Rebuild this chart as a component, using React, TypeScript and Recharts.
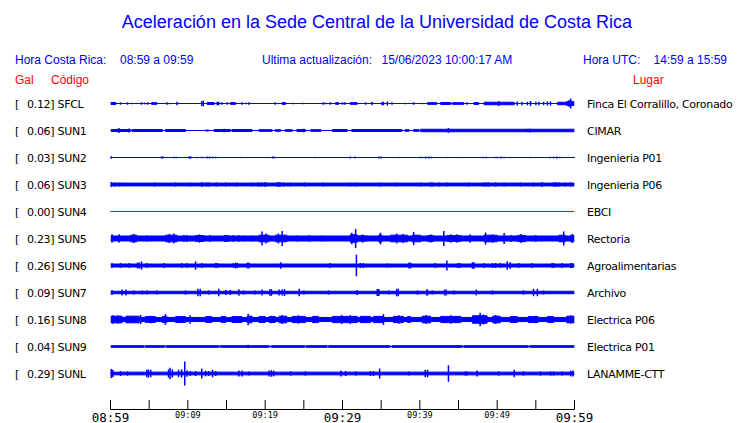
import React from 'react';
import { ComposedChart, Area, Scatter, ErrorBar, XAxis, YAxis } from 'recharts';

type Pt = [number, number]; // [minutes since 08:59, half amplitude in Gal]

const CODES = ['SFCL', 'SUN1', 'SUN2', 'SUN3', 'SUN4', 'SUN5', 'SUN6', 'SUN7', 'SUN8', 'SUN9', 'SUNL'];
const PLACES = [
  'Finca El Corralillo, Coronado',
  'CIMAR',
  'Ingenieria P01',
  'Ingenieria P06',
  'EBCI',
  'Rectoria',
  'Agroalimentarias',
  'Archivo',
  'Electrica P06',
  'Electrica P01',
  'LANAMME-CTT',
];
const PEAKS = [0.12, 0.06, 0.03, 0.06, 0.0, 0.23, 0.26, 0.09, 0.16, 0.04, 0.29];

const TIME_TICKS = [0, 5, 10, 15, 20, 25, 30, 35, 40, 45, 50, 55, 60];
const TIME_LABELS = ['08:59', '', '09:09', '', '09:19', '', '09:29', '', '09:39', '', '09:49', '', '09:59'];

// background noise level (step envelope)
const SFCL_ENV: Pt[] = [[0, 0.024], [0.7, 0], [5.3, 0.02], [6.0, 0], [12.5, 0.024], [13.4, 0], [15.5, 0.02], [16.2, 0], [22.2, 0.024], [22.6, 0], [29.1, 0.02], [29.5, 0], [31.0, 0.02], [31.9, 0], [41.0, 0.02], [42.2, 0], [42.7, 0.024], [44.0, 0], [44.2, 0.02], [45.7, 0], [47.0, 0.024], [47.6, 0], [48.3, 0.03], [52.2, 0], [57.8, 0.03], [59.0, 0.05], [59.9, 0.03]];
const SUN1_ENV: Pt[] = [[0, 0.024], [2.6, 0], [2.8, 0.024], [6.7, 0], [7.1, 0.024], [9.7, 0], [12.3, 0.012], [12.7, 0], [13.4, 0.024], [15.5, 0], [15.7, 0.024], [18.3, 0], [19.2, 0.02], [20.9, 0], [21.3, 0.02], [22.0, 0], [22.6, 0.02], [23.5, 0], [24.1, 0.024], [25.2, 0], [25.9, 0.02], [27.2, 0], [28.7, 0.024], [30.6, 0], [31.2, 0.024], [37.7, 0], [38.1, 0.02], [38.6, 0], [39.2, 0.02], [39.9, 0], [40.1, 0.03]];
const SUN2_ENV: Pt[] = [[0, 0]];
const SUN3_ENV: Pt[] = [[0, 0.034]];
const SUN4_ENV: Pt[] = [[0, 0]];
const SUN5_ENV: Pt[] = [[0, 0.06], [2.6, 0.08], [3.4, 0.06], [7.1, 0.08], [8.6, 0.06], [11.0, 0.07], [12.1, 0.06], [14.7, 0.07], [15.3, 0.06], [19.2, 0.08], [20.5, 0.06], [21.3, 0.08], [22.8, 0.06], [31.0, 0.09], [31.9, 0.065], [33.2, 0.06], [34.7, 0.085], [35.1, 0.06], [36.2, 0.08], [38.4, 0.06], [39.0, 0.08], [40.1, 0.06], [41.0, 0.07], [41.8, 0.06], [43.5, 0.07], [45.3, 0.06], [48.3, 0.08], [50.0, 0.06], [52.6, 0.075], [53.7, 0.06], [58.0, 0.08], [58.8, 0.06], [59.5, 0.075]];
const SUN6_ENV: Pt[] = [[0, 0.036]];
const SUN7_ENV: Pt[] = [[0, 0.03]];
const SUN8_ENV: Pt[] = [[0, 0.08], [1.5, 0.05], [2.0, 0.08], [3.7, 0.05], [4.5, 0.07], [5.8, 0.05], [6.7, 0.075], [7.3, 0.05], [8.4, 0.07], [9.7, 0.05], [12.3, 0.07], [13.1, 0.05], [14.3, 0.07], [14.9, 0.05], [15.7, 0.07], [17.0, 0.05], [17.7, 0.08], [18.3, 0.05], [19.2, 0.07], [20.0, 0.05], [20.5, 0.07], [21.3, 0.05], [21.8, 0.08], [22.8, 0.05], [23.5, 0.075], [25.2, 0.05], [26.1, 0.075], [26.9, 0.05], [28.7, 0.075], [31.9, 0.05], [32.3, 0.075], [33.6, 0.05], [34.0, 0.075], [35.3, 0.05], [36.6, 0.075], [37.9, 0.05], [38.4, 0.07], [38.8, 0.05], [40.3, 0.08], [41.4, 0.05], [42.7, 0.075], [45.3, 0.05], [46.8, 0.09], [48.7, 0.05], [49.4, 0.08], [50.4, 0.05], [51.7, 0.07], [52.6, 0.05], [54.0, 0.07], [55.3, 0.05], [56.5, 0.07], [57.3, 0.05], [59.0, 0.08]];
const SUN9_ENV: Pt[] = [[0, 0.02], [4.3, 0.006], [4.5, 0.02], [7.0, 0.006], [7.2, 0.02], [14.0, 0.006], [14.2, 0.02], [20.5, 0.006], [20.8, 0.02], [25.1, 0.006], [25.3, 0.02], [28.0, 0.006], [28.2, 0.02], [36.1, 0.006], [36.4, 0.02], [45.5, 0.006], [45.7, 0.02], [54.0, 0.006], [54.2, 0.02]];
const SUNL_ENV: Pt[] = [[0, 0.033]];

// individual bursts / peaks
const SFCL_SPK: Pt[] = [[1.3, 0.03], [2.2, 0.03], [2.8, 0.02], [4.0, 0.03], [4.4, 0.02], [4.8, 0.03], [7.3, 0.03], [7.7, 0.02], [8.6, 0.04], [11.8, 0.06], [12.0, 0.07], [13.8, 0.04], [14.0, 0.04], [14.4, 0.03], [15.1, 0.03], [17.0, 0.03], [17.5, 0.02], [17.9, 0.03], [21.3, 0.03], [23.6, 0.02], [24.9, 0.02], [27.5, 0.03], [27.8, 0.02], [28.4, 0.03], [30.0, 0.03], [30.3, 0.03], [33.0, 0.03], [33.8, 0.04], [35.1, 0.04], [35.3, 0.04], [35.8, 0.05], [36.4, 0.03], [38.1, 0.02], [39.2, 0.03], [40.3, 0.02], [46.1, 0.03], [50.2, 0.06], [52.6, 0.05], [53.2, 0.04], [53.9, 0.04], [54.3, 0.06], [55.0, 0.04], [55.4, 0.04], [56.0, 0.04], [56.5, 0.05], [56.9, 0.05], [59.3, 0.08], [59.5, 0.12]];
const SUN1_SPK: Pt[] = [[0.8, 0.04], [1.1, 0.06], [2.4, 0.05], [14.7, 0.045], [25.0, 0.04], [43.7, 0.06], [53.8, 0.04], [54.2, 0.045]];
const SUN2_SPK: Pt[] = [[0.1, 0.03], [6.6, 0.025], [6.8, 0.025], [8.2, 0.02], [8.5, 0.02], [10.2, 0.03], [10.4, 0.025], [11.2, 0.02], [11.8, 0.02], [12.5, 0.025], [12.8, 0.025], [13.2, 0.02], [13.6, 0.02], [16.8, 0.015], [18.3, 0.015], [20.3, 0.015], [21.0, 0.025], [21.2, 0.02], [21.8, 0.015], [26.4, 0.015], [31.0, 0.025], [31.6, 0.025], [34.7, 0.025], [35.0, 0.025], [35.6, 0.015], [36.8, 0.015], [37.4, 0.015], [40.0, 0.02], [40.3, 0.02], [40.8, 0.025], [41.2, 0.025], [41.5, 0.02], [43.6, 0.015], [45.0, 0.015], [47.4, 0.015], [48.2, 0.02], [48.6, 0.02], [49.7, 0.02], [50.0, 0.02], [50.5, 0.025], [50.9, 0.02], [51.7, 0.015], [54.3, 0.015], [56.8, 0.02], [57.3, 0.02], [57.7, 0.025], [58.1, 0.02], [59.9, 0.015]];
const SUN3_SPK: Pt[] = [[0.1, 0.06], [0.5, 0.05], [1.2, 0.05], [5.7, 0.05], [8.4, 0.05], [10.3, 0.05], [11.8, 0.06], [12.5, 0.05], [12.7, 0.05], [13.7, 0.05], [14.9, 0.05], [16.3, 0.05], [18.3, 0.05], [19.1, 0.05], [19.5, 0.05], [20.0, 0.06], [21.6, 0.06], [21.9, 0.06], [22.4, 0.05], [23.2, 0.05], [25.1, 0.05], [27.5, 0.05], [31.0, 0.05], [31.8, 0.05], [34.9, 0.05], [36.9, 0.05], [40.1, 0.05], [41.4, 0.05], [41.6, 0.05], [42.5, 0.05], [43.5, 0.05], [46.3, 0.05], [48.3, 0.05], [48.6, 0.05], [48.9, 0.05], [49.8, 0.05], [50.9, 0.05], [53.0, 0.05], [54.7, 0.05], [55.8, 0.06], [57.3, 0.05], [57.6, 0.06], [58.0, 0.05], [58.8, 0.05], [59.5, 0.05]];
const SUN4_SPK: Pt[] = [];
const SUN5_SPK: Pt[] = [[0.2, 0.1], [1.1, 0.1], [3.0, 0.11], [4.7, 0.07], [7.6, 0.11], [8.2, 0.12], [9.5, 0.085], [9.9, 0.085], [11.5, 0.1], [12.9, 0.085], [15.9, 0.085], [16.6, 0.08], [17.2, 0.07], [18.3, 0.07], [19.6, 0.17], [20.1, 0.12], [21.7, 0.12], [22.2, 0.18], [24.1, 0.07], [25.7, 0.085], [27.3, 0.07], [31.2, 0.14], [31.7, 0.23], [32.6, 0.1], [34.9, 0.14], [37.0, 0.12], [37.8, 0.11], [39.2, 0.16], [41.4, 0.1], [43.1, 0.18], [44.0, 0.1], [44.8, 0.1], [46.5, 0.1], [48.5, 0.145], [49.4, 0.1], [50.9, 0.13], [51.8, 0.085], [53.1, 0.11], [55.0, 0.085], [58.6, 0.17], [59.7, 0.11]];
const SUN6_SPK: Pt[] = [[0.2, 0.06], [1.3, 0.06], [2.4, 0.06], [3.5, 0.07], [3.7, 0.07], [4.0, 0.1], [4.7, 0.06], [6.9, 0.06], [9.2, 0.06], [9.9, 0.06], [11.0, 0.1], [11.8, 0.06], [13.6, 0.06], [13.8, 0.06], [15.9, 0.06], [16.2, 0.07], [16.4, 0.06], [17.7, 0.07], [17.9, 0.07], [22.0, 0.08], [28.4, 0.06], [31.8, 0.26], [32.3, 0.06], [32.7, 0.06], [35.8, 0.05], [38.6, 0.07], [38.8, 0.07], [42.0, 0.06], [43.5, 0.12], [44.9, 0.06], [45.2, 0.06], [46.8, 0.08], [47.0, 0.08], [48.3, 0.06], [49.4, 0.06], [49.8, 0.06], [50.4, 0.06], [51.3, 0.1], [51.7, 0.08], [52.8, 0.06], [54.5, 0.06], [57.1, 0.06], [57.3, 0.06], [58.4, 0.06], [59.5, 0.06], [59.7, 0.06]];
const SUN7_SPK: Pt[] = [[0.2, 0.06], [1.5, 0.07], [2.0, 0.07], [3.0, 0.05], [4.1, 0.05], [4.7, 0.05], [6.0, 0.05], [9.7, 0.05], [11.3, 0.09], [11.6, 0.09], [12.7, 0.05], [14.0, 0.09], [14.9, 0.06], [15.5, 0.06], [16.6, 0.08], [17.2, 0.05], [18.7, 0.05], [19.6, 0.07], [20.6, 0.08], [20.8, 0.08], [21.8, 0.07], [22.2, 0.07], [22.5, 0.085], [24.4, 0.09], [25.0, 0.05], [28.2, 0.05], [31.9, 0.06], [34.5, 0.085], [34.7, 0.085], [36.0, 0.05], [37.0, 0.09], [37.2, 0.09], [39.7, 0.05], [40.9, 0.07], [41.0, 0.07], [41.6, 0.05], [43.2, 0.07], [43.4, 0.07], [44.4, 0.05], [47.3, 0.07], [49.4, 0.05], [53.4, 0.05], [54.7, 0.09], [55.2, 0.09], [56.0, 0.05]];
const SUN8_SPK: Pt[] = [[0.3, 0.1], [1.0, 0.1], [3.9, 0.11], [5.2, 0.09], [7.1, 0.13], [10.3, 0.1], [17.8, 0.14], [20.8, 0.09], [22.2, 0.11], [24.3, 0.1], [29.9, 0.11], [31.0, 0.11], [35.3, 0.13], [37.3, 0.1], [40.8, 0.11], [44.0, 0.1], [47.8, 0.16], [48.2, 0.12], [49.8, 0.11], [55.0, 0.09], [59.5, 0.1]];
const SUN9_SPK: Pt[] = [[17.8, 0.04], [45.0, 0.03]];
const SUNL_SPK: Pt[] = [[0.1, 0.11], [0.3, 0.09], [1.3, 0.06], [2.2, 0.05], [4.7, 0.09], [4.9, 0.1], [5.2, 0.09], [7.5, 0.1], [7.7, 0.14], [8.0, 0.1], [8.8, 0.09], [9.2, 0.1], [9.6, 0.29], [9.9, 0.08], [10.3, 0.06], [11.0, 0.06], [11.8, 0.12], [12.3, 0.07], [12.7, 0.06], [13.2, 0.09], [13.6, 0.06], [16.6, 0.07], [17.0, 0.07], [17.9, 0.05], [20.5, 0.07], [20.8, 0.08], [21.1, 0.07], [23.3, 0.05], [25.2, 0.05], [29.8, 0.07], [30.4, 0.06], [31.7, 0.05], [33.6, 0.06], [34.0, 0.06], [34.8, 0.12], [38.6, 0.05], [40.7, 0.09], [41.0, 0.09], [43.7, 0.2], [45.9, 0.05], [46.1, 0.05], [47.4, 0.07], [50.2, 0.05], [52.2, 0.09], [53.4, 0.05], [55.6, 0.05], [56.9, 0.05], [57.3, 0.05], [58.4, 0.05], [59.5, 0.07], [59.8, 0.07]];

const ENVS = [SFCL_ENV, SUN1_ENV, SUN2_ENV, SUN3_ENV, SUN4_ENV, SUN5_ENV, SUN6_ENV, SUN7_ENV, SUN8_ENV, SUN9_ENV, SUNL_ENV];
const SPIKES = [SFCL_SPK, SUN1_SPK, SUN2_SPK, SUN3_SPK, SUN4_SPK, SUN5_SPK, SUN6_SPK, SUN7_SPK, SUN8_SPK, SUN9_SPK, SUNL_SPK];

// layout
const W = 740;
const H = 423;
const PLOT_TOP = 90;
const PLOT_BOTTOM = 409.5;
const PLOT_LEFT = 110.5;
const PLOT_RIGHT = 574.5;
const ROW_PX = 27;
const PX_PER_GAL = 41.5;
const SLOT = ROW_PX / PX_PER_GAL;
const Y_MAX = ROW_PX / 2 / PX_PER_GAL;
const Y_MIN = Y_MAX - (PLOT_BOTTOM - PLOT_TOP) / PX_PER_GAL;
const T_END = 60;

const BLUE = '#0000ff';
const RED = '#ff0000';
const SANS = '"Liberation Sans", Arial, sans-serif';
const DEJAVU = '"DejaVu Sans", sans-serif';
const MONO = '"DejaVu Sans Mono", monospace';

const centers = CODES.map((_, i) => -i * SLOT);

const bands = ENVS.map((env, i) => {
  const rows = env.map(([t, a]) => ({ t, band: [centers[i] - a, centers[i] + a] }));
  const last = env[env.length - 1];
  rows.push({ t: T_END, band: [centers[i] - last[1], centers[i] + last[1]] });
  return rows;
});

const bursts = SPIKES.map((spk, i) => spk.map(([t, a]) => ({ t, y: centers[i], e: a })));

function StationTick(props: any) {
  const { y, payload } = props;
  const i = Math.round(-payload.value / SLOT);
  const txt = { fontFamily: DEJAVU, fontSize: 11, fill: '#000', letterSpacing: -0.3 };
  return (
    <g>
      <text x={15} y={y + 4} {...txt}>
        [
      </text>
      <text x={27} y={y + 4} {...txt}>
        {PEAKS[i].toFixed(2)}] {CODES[i]}
      </text>
      <text x={587} y={y + 4} {...txt}>
        {PLACES[i]}
      </text>
    </g>
  );
}

function TimeTick(props: any) {
  const { x, y, payload } = props;
  const idx = TIME_TICKS.indexOf(payload.value);
  const label = TIME_LABELS[idx];
  const big = payload.value % 30 === 0;
  return (
    <g>
      <line x1={x} x2={x} y1={y - 9.5} y2={y} stroke="#000" strokeWidth={1} />
      {label && (
        <text
          x={x}
          y={big ? y + 12 : y + 8.5}
          textAnchor="middle"
          fontFamily={MONO}
          fontSize={big ? 12.5 : 8.5}
          fill="#000"
        >
          {label}
        </text>
      )}
    </g>
  );
}

function Header() {
  return (
    <svg width={W} height={90} style={{ position: 'absolute', left: 0, top: 0, pointerEvents: 'none' }}>
      <text x={377} y={28} textAnchor="middle" fontFamily={SANS} fontSize={18} fill={BLUE}>
        Aceleración en la Sede Central de la Universidad de Costa Rica
      </text>
      <g fontFamily={SANS} fontSize={12} fill={BLUE}>
        <text x={15} y={64}>Hora Costa Rica:</text>
        <text x={120} y={64}>08:59 a 09:59</text>
        <text x={262} y={64}>Ultima actualización:</text>
        <text x={381.5} y={64}>15/06/2023 10:00:17 AM</text>
        <text x={583} y={64}>Hora UTC:</text>
        <text x={727} y={64} textAnchor="end">14:59 a 15:59</text>
      </g>
      <g fontFamily={SANS} fontSize={12} fill={RED}>
        <text x={15} y={84}>Gal</text>
        <text x={51} y={84}>Código</text>
        <text x={633} y={84}>Lugar</text>
      </g>
    </svg>
  );
}

export default function App() {
  return (
    <div style={{ position: 'absolute', left: 0, top: 0, width: W, height: H, background: '#fff' }}>
      <ComposedChart
        width={W}
        height={H}
        margin={{ top: PLOT_TOP, right: W - PLOT_RIGHT, bottom: 0, left: 0 }}
      >
        <XAxis
          type="number"
          dataKey="t"
          domain={[0, T_END]}
          allowDataOverflow
          ticks={TIME_TICKS}
          interval={0}
          tickSize={0}
          tickMargin={0}
          tick={(p: any) => <TimeTick {...p} />}
          stroke="#000"
          height={H - PLOT_BOTTOM}
        />
        <YAxis
          type="number"
          domain={[Y_MIN, Y_MAX]}
          allowDataOverflow
          ticks={centers}
          interval={0}
          width={PLOT_LEFT}
          axisLine={false}
          tickLine={false}
          tick={(p: any) => <StationTick {...p} />}
        />
        {bands.map((rows, i) => (
          <Area
            key={'a' + i}
            data={rows}
            dataKey="band"
            type="stepAfter"
            stroke={PEAKS[i] === 0 ? RED : BLUE}
            strokeWidth={1}
            fill={BLUE}
            fillOpacity={1}
            dot={false}
            activeDot={false}
            isAnimationActive={false}
          />
        ))}
        {bursts.map((pts, i) =>
          pts.length ? (
            <Scatter
              key={'s' + i}
              data={pts}
              dataKey="y"
              shape={() => <g />}
              isAnimationActive={false}
            >
              <ErrorBar dataKey="e" direction="y" width={0} stroke={BLUE} strokeWidth={1.5} isAnimationActive={false} />
            </Scatter>
          ) : null
        )}
      </ComposedChart>
      <Header />
    </div>
  );
}
